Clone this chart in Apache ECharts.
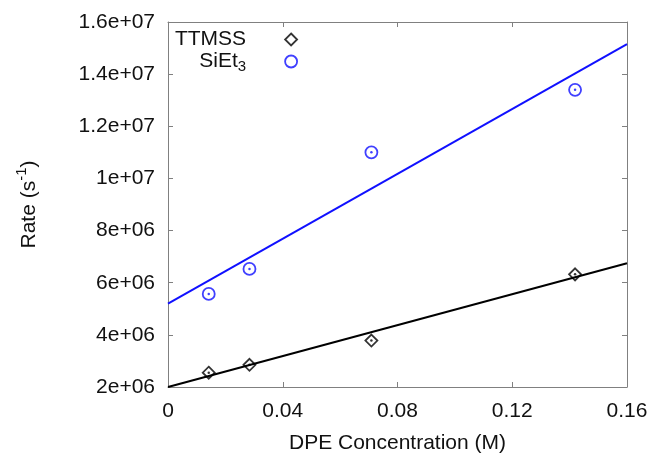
<!DOCTYPE html>
<html>
<head>
<meta charset="utf-8">
<script src="https://cdn.jsdelivr.net/npm/echarts@6/dist/echarts.min.js"></script>
<style>html,body{margin:0;padding:0;background:#fff;}#chart{width:654px;height:453px;}</style>
</head>
<body>
<div id="chart"></div>
<script>
// Data
const concentrations = [0.0142, 0.0284, 0.0709, 0.1419];
const ttmssRates = [2.55e6, 2.85e6, 3.78e6, 6.32e6];
const siet3Rates = [5.57e6, 6.53e6, 11.0e6, 13.4e6];
const ttmssFitX = [0, 0.16];
const ttmssFitY = [2.0e6, 6.75e6];
const siet3FitX = [0, 0.16];
const siet3FitY = [5.2e6, 15.15e6];
const xTickLabels = ['0', '0.04', '0.08', '0.12', '0.16'];
const yTickLabels = ['2e+06', '4e+06', '6e+06', '8e+06', '1e+07', '1.2e+07', '1.4e+07', '1.6e+07'];

const pair = (xs, ys) => xs.map((x, i) => [x, ys[i]]);
const FONT = 'Liberation Sans, Arial, sans-serif';
const AX = '#808080';
const BLUE = '#1010ff';

const chart = echarts.init(document.getElementById('chart'), null, {renderer: 'canvas'});
const xBase = {
  type: 'value', min: 0, max: 0.16, interval: 0.04,
  axisLine: {show: true, onZero: false, lineStyle: {color: AX, width: 1}},
  axisTick: {show: true, inside: true, length: 5, lineStyle: {color: AX}},
  splitLine: {show: false}
};
const yBase = {
  type: 'value', min: 2e6, max: 1.6e7, interval: 2e6,
  axisLine: {show: true, onZero: false, lineStyle: {color: AX, width: 1}},
  axisTick: {show: true, inside: true, length: 5, lineStyle: {color: AX}},
  splitLine: {show: false}
};
const legendBase = {
  orient: 'vertical', right: 351, itemWidth: 12, itemHeight: 12, align: 'right',
  textStyle: {fontFamily: FONT, fontSize: 21, color: '#111',
    rich: {
      t: {fontFamily: FONT, fontSize: 21, color: '#111', padding: [0, 34, 0, 0]},
      s: {fontFamily: FONT, fontSize: 21, color: '#111'},
      sub: {fontFamily: FONT, fontSize: 15, color: '#111', padding: [10, 34, 0, 0]}
    }},
  formatter: n => n === 'SiEt3' ? '{s|SiEt}{sub|3}' : '{t|' + n + '}'
};

chart.setOption({
  animation: false,
  backgroundColor: '#fff',
  grid: {left: 168, right: 27, top: 22, bottom: 66, containLabel: false, outerBoundsMode: 'none'},
  legend: [
    Object.assign({}, legendBase, {top: 24, data: [{name: 'TTMSS', icon: 'diamond',
      itemStyle: {color: 'rgba(0,0,0,0)', borderColor: '#000', borderWidth: 1.8}}]}),
    Object.assign({}, legendBase, {top: 46, data: [{name: 'SiEt3', icon: 'circle',
      itemStyle: {color: 'rgba(0,0,0,0)', borderColor: BLUE, borderWidth: 1.8}}]})
  ],
  xAxis: [
    Object.assign({}, xBase, {
      position: 'bottom',
      name: 'DPE Concentration (M)', nameLocation: 'middle', nameGap: 46,
      nameTextStyle: {fontFamily: FONT, fontSize: 21, color: '#111'},
      axisLabel: {fontFamily: FONT, fontSize: 21, color: '#111', margin: 14,
        formatter: (v, i) => xTickLabels[i]}
    }),
    Object.assign({}, xBase, {position: 'top', axisLabel: {show: false}})
  ],
  yAxis: [
    Object.assign({}, yBase, {
      position: 'left',
      name: 'Rate (s{sup|-1})', nameLocation: 'middle', nameGap: 123,
      nameTextStyle: {fontFamily: FONT, fontSize: 21, color: '#111',
        rich: {sup: {fontFamily: FONT, fontSize: 15, color: '#111', padding: [0, 0, 16, 0]}}},
      axisLabel: {fontFamily: FONT, fontSize: 21, color: '#111', margin: 13,
        formatter: (v, i) => yTickLabels[i]}
    }),
    Object.assign({}, yBase, {position: 'right', axisLabel: {show: false}})
  ],
  series: [
    {name: 'TTMSSfit', type: 'line', data: pair(ttmssFitX, ttmssFitY), symbol: 'none',
      lineStyle: {color: '#000', width: 2}, z: 2, silent: true},
    {name: 'SiEt3fit', type: 'line', data: pair(siet3FitX, siet3FitY), symbol: 'none',
      lineStyle: {color: BLUE, width: 2}, z: 2, silent: true},
    {name: 'TTMSS', type: 'scatter', data: pair(concentrations, ttmssRates), symbol: 'diamond', symbolSize: 12,
      itemStyle: {color: 'rgba(0,0,0,0)', borderColor: '#000', borderWidth: 1.8}, z: 3},
    {name: 'SiEt3', type: 'scatter', data: pair(concentrations, siet3Rates), symbol: 'circle', symbolSize: 12,
      itemStyle: {color: 'rgba(0,0,0,0)', borderColor: BLUE, borderWidth: 1.8}, z: 3},
    {name: 'TTMSSdot', type: 'scatter', data: pair(concentrations, ttmssRates), symbol: 'circle', symbolSize: 2.5,
      itemStyle: {color: '#000'}, z: 4},
    {name: 'SiEt3dot', type: 'scatter', data: pair(concentrations, siet3Rates), symbol: 'circle', symbolSize: 2.5,
      itemStyle: {color: BLUE}, z: 4}
  ]
});
</script>
</body>
</html>
